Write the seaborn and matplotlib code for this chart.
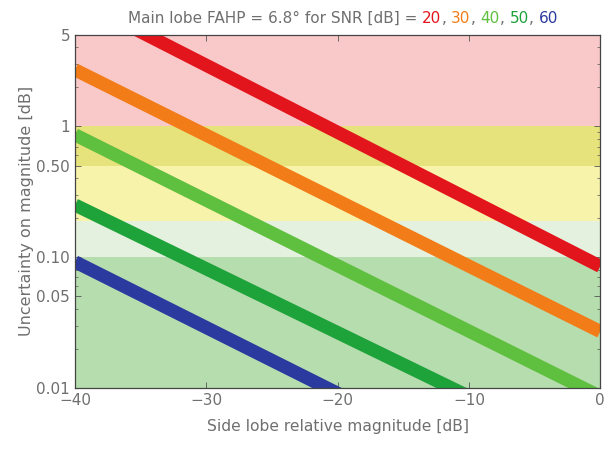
import matplotlib
matplotlib.use("Agg")
import matplotlib.pyplot as plt
import seaborn as sns
import pandas as pd
from matplotlib.offsetbox import TextArea, HPacker, AnchoredOffsetbox
from matplotlib.ticker import FixedLocator, NullFormatter

# Side lobe magnitude (dB) at the two ends of each line
x_ends = [-40, 0]
snr_labels = ["20", "30", "40", "50", "60"]
# uncertainty read at x=-40 and x=0 (lines are straight on log axis)
y_snr20 = [9.5, 0.085]
y_snr30 = [2.7, 0.027]
y_snr40 = [0.86, 0.0086]
y_snr50 = [0.25, 0.0028]
y_snr60 = [0.092, 0.0009]
line_colors = ["#e3151c", "#f27c17", "#5fbf3e", "#1ea23a", "#2b3a9e"]

# background quality bands (lower, upper)
band_lo = [1.0, 0.5, 0.19, 0.1, 0.01]
band_hi = [5.0, 1.0, 0.5, 0.19, 0.1]
band_colors = ["#f9c8c8", "#e6e27c", "#f8f3ab", "#e4f1de", "#b6ddae"]

ytick_vals = [0.01, 0.05, 0.10, 0.50, 1, 5]
ytick_text = ["0.01", "0.05", "0.10", "0.50", "1", "5"]
xtick_vals = [-40, -30, -20, -10, 0]

sns.set_style("ticks")
plt.rcParams["font.family"] = ["DejaVu Sans"]
grey = "#6f6f6f"

rows = []
for lab, ys in zip(snr_labels, [y_snr20, y_snr30, y_snr40, y_snr50, y_snr60]):
    for xv, yv in zip(x_ends, ys):
        rows.append({"snr": lab, "x": xv, "y": yv})
df = pd.DataFrame(rows)

fig = plt.figure(figsize=(6.1, 4.58), dpi=100)
ax = fig.add_axes([0.123, 0.153, 0.861, 0.771])

for lo, hi, c in zip(band_lo, band_hi, band_colors):
    ax.axhspan(lo, hi, color=c, lw=0, zorder=0)

sns.lineplot(data=df, x="x", y="y", hue="snr", palette=line_colors,
             linewidth=9.5, legend=False, ax=ax, zorder=2)
for ln in ax.get_lines():
    ln.set_solid_capstyle("butt")

ax.set_yscale("log")
ax.set_xlim(-40, 0)
ax.set_ylim(0.01, 5)
ax.yaxis.set_major_locator(FixedLocator(ytick_vals))
ax.set_yticklabels(ytick_text)
ax.yaxis.set_minor_formatter(NullFormatter())
ax.set_xticks(xtick_vals)
ax.set_xticklabels(["\u221240", "\u221230", "\u221220", "\u221210", "0"])

ax.tick_params(which="both", direction="in", top=True, right=True,
               labelsize=11, colors="#555555", labelcolor=grey)
ax.tick_params(which="major", length=4, width=0.6)
ax.tick_params(which="minor", length=2, width=0.5)
for sp in ax.spines.values():
    sp.set_color("#444444")
    sp.set_linewidth(0.9)

ax.set_xlabel("Side lobe relative magnitude [dB]", color=grey, fontsize=11.2, labelpad=8)
ax.set_ylabel("Uncertainty on magnitude [dB]", color=grey, fontsize=11.5, labelpad=2)

# multi-coloured title
tsize = 11
pieces = [TextArea("Main lobe FAHP = 6.8\u00b0 for SNR [dB] = ",
                   textprops=dict(color=grey, size=tsize))]
for i, (lab, c) in enumerate(zip(snr_labels, line_colors)):
    pieces.append(TextArea(lab, textprops=dict(color=c, size=tsize)))
    if i < len(snr_labels) - 1:
        pieces.append(TextArea(", ", textprops=dict(color=grey, size=tsize)))
box = HPacker(children=pieces, align="baseline", pad=0, sep=0)
anch = AnchoredOffsetbox(loc="lower center", child=box, pad=0, frameon=False,
                         bbox_to_anchor=(0.51, 1.025), bbox_transform=ax.transAxes,
                         borderpad=0)
ax.add_artist(anch)

fig.savefig("out.png", dpi=100)
